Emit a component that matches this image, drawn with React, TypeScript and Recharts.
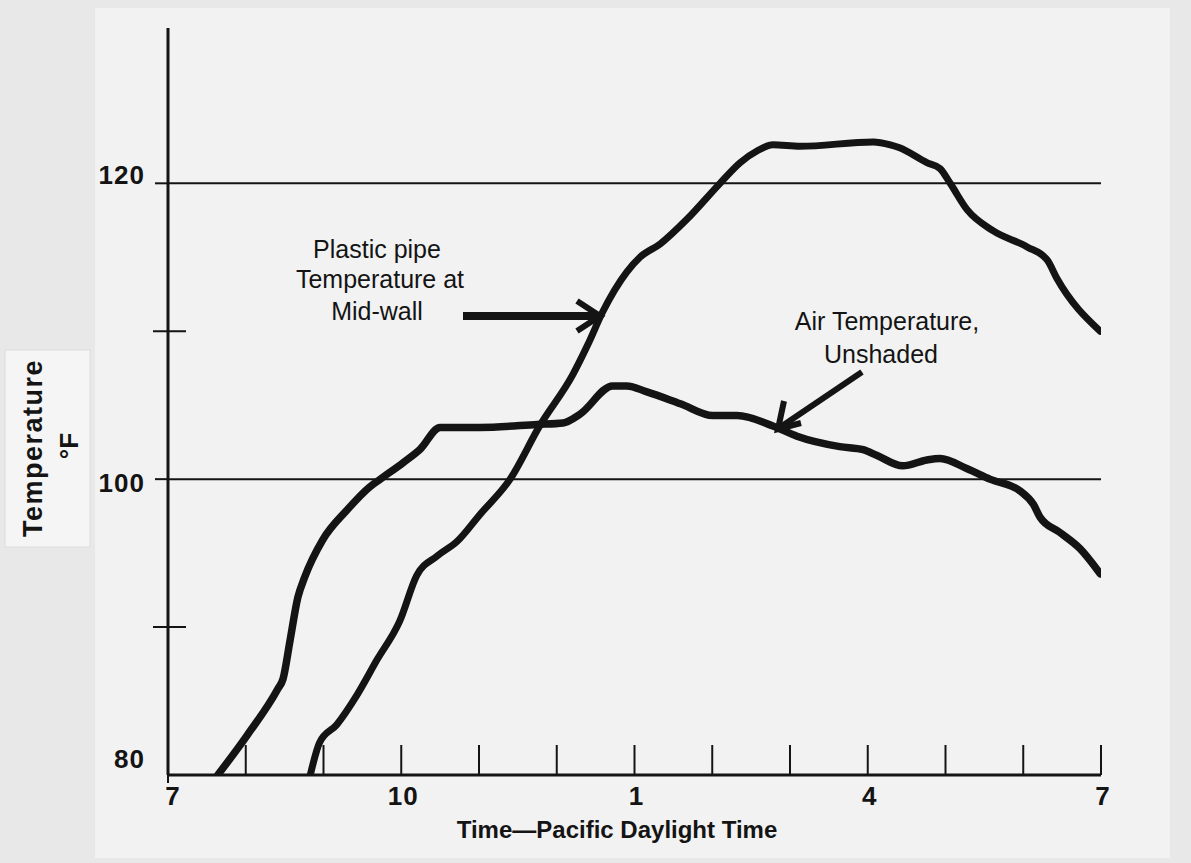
import React from "react";
import { ComposedChart, Line, XAxis, YAxis, ReferenceLine } from "recharts";

// Hours (decimal, 24h clock) and temperatures (°F)
const airHours = [7.64, 8.02, 8.41, 8.48, 8.57, 8.67, 8.76, 8.99, 9.3, 9.6, 9.73, 10.02, 10.24, 10.5, 11.01, 11.75, 12.08, 12.3, 12.72, 12.9, 13.16, 13.59, 14.01, 14.32, 14.78, 15.09, 15.64, 15.94, 16.12, 16.45, 16.76, 16.93, 17.28, 17.57, 17.96, 18.13, 18.22, 18.47, 18.73, 18.99];
const airTemps = [80.0, 82.7, 85.8, 86.5, 89.1, 92.0, 93.4, 95.9, 97.9, 99.5, 100.0, 101.1, 102.0, 103.5, 103.5, 103.7, 103.8, 104.4, 106.3, 106.3, 105.9, 105.1, 104.3, 104.3, 103.6, 102.9, 102.2, 102.0, 101.6, 100.9, 101.3, 101.4, 100.7, 100.0, 99.2, 98.3, 97.4, 96.4, 95.3, 93.6];

const pipeHours = [8.83, 8.95, 9.17, 9.43, 9.69, 9.98, 10.2, 10.46, 10.72, 11.01, 11.4, 11.78, 12.21, 12.4, 12.59, 12.9, 13.07, 13.33, 13.68, 14.1, 14.36, 14.58, 14.78, 15.13, 16.07, 16.29, 16.41, 16.76, 16.93, 17.06, 17.28, 17.61, 18.05, 18.31, 18.43, 18.99];
const pipeTemps = [80.0, 82.2, 83.4, 85.4, 87.8, 90.4, 93.5, 94.8, 95.8, 97.6, 100.0, 103.6, 107.1, 109.1, 111.3, 114.0, 115.0, 115.9, 117.6, 120.0, 121.4, 122.2, 122.6, 122.5, 122.8, 122.6, 122.4, 121.4, 121.0, 120.0, 118.2, 116.8, 115.7, 114.8, 113.6, 110.0];

const xTicks = [7, 8, 9, 10, 11, 12, 13, 14, 15, 16, 17, 18, 19];
const xLabelHours = [7, 10, 13, 16, 19];
const xLabels = ["7", "10", "1", "4", "7"];
const yTicks = [80, 90, 100, 110, 120];
const yLabelValues = [80, 100, 120];
const yLabels = ["80", "100", "120"];
const gridValues = [100, 120];

const airData = airHours.map((h, i) => ({ h, t: airTemps[i] }));
const pipeData = pipeHours.map((h, i) => ({ h, t: pipeTemps[i] }));

const INK = "#141414";
const FONT = "'Liberation Sans', Arial, Helvetica, sans-serif";

const XTick = (props: any) => {
  const { x, y, payload } = props;
  const v = payload.value;
  const idx = xLabelHours.indexOf(v);
  return (
    <g>
      {v > 7 && <line x1={x} y1={y} x2={x} y2={y - 30} stroke={INK} strokeWidth={2} />}
      {v === 7 && <line x1={x} y1={y} x2={x} y2={y + 8} stroke={INK} strokeWidth={2} />}
      {idx >= 0 && (
        <text x={x + (v === 7 ? 5 : 2)} y={y + 30} textAnchor="middle" fontFamily={FONT} fontWeight={700} fontSize={26} letterSpacing={1} fill={INK}>
          {xLabels[idx]}
        </text>
      )}
    </g>
  );
};

const YTick = (props: any) => {
  const { x, y, payload } = props;
  const v = payload.value;
  const idx = yLabelValues.indexOf(v);
  const dy = v === 80 ? -16 : v === 120 ? -9 : 3;
  return (
    <g>
      {(v === 90 || v === 110) && <line x1={x - 15} y1={y} x2={x + 18} y2={y} stroke={INK} strokeWidth={2} />}
      {(v === 100 || v === 120) && <line x1={x - 13} y1={y} x2={x} y2={y} stroke={INK} strokeWidth={2} />}
      {idx >= 0 && (
        <text x={x - 23} y={y + dy} dy="0.36em" textAnchor="end" fontFamily={FONT} fontWeight={700} fontSize={26} letterSpacing={1} fill={INK}>
          {yLabels[idx]}
        </text>
      )}
    </g>
  );
};

export default function App() {
  return (
    <div style={{ position: "absolute", left: 0, top: 0, width: 1191, height: 863, background: "#e8e8e8", overflow: "hidden" }}>
      <svg width={1191} height={863} style={{ position: "absolute", left: 0, top: 0 }}>
        <rect x={95} y={8} width={1075} height={850} fill="#f2f2f2" />
        <rect x={5} y={350} width={85} height={197} fill="#f5f5f5" stroke="#dcdcdc" strokeWidth={1} />
      </svg>
      <div style={{ position: "absolute", left: 0, top: 0 }}>
        <ComposedChart width={1191} height={863} margin={{ top: 28, right: 90, bottom: 0, left: 0 }}>
          <XAxis
            dataKey="h"
            type="number"
            domain={[7, 19]}
            ticks={xTicks}
            interval={0}
            height={88}
            tickSize={0}
            tickMargin={0}
            tickLine={false}
            axisLine={{ stroke: INK, strokeWidth: 3 }}
            tick={<XTick />}
            allowDataOverflow
          />
          <YAxis
            dataKey="t"
            type="number"
            domain={[80, 130.5]}
            ticks={yTicks}
            interval={0}
            width={168}
            tickSize={0}
            tickMargin={0}
            tickLine={false}
            axisLine={{ stroke: INK, strokeWidth: 3 }}
            tick={<YTick />}
            allowDataOverflow
          />
          {gridValues.map((g) => (
            <ReferenceLine key={g} y={g} stroke={INK} strokeWidth={2} ifOverflow="visible" />
          ))}
          <Line data={airData} dataKey="t" type="monotone" stroke={INK} strokeWidth={7.5} dot={false} isAnimationActive={false} strokeLinecap="round" strokeLinejoin="round" />
          <Line data={pipeData} dataKey="t" type="monotone" stroke={INK} strokeWidth={7} dot={false} isAnimationActive={false} strokeLinecap="round" strokeLinejoin="round" />
        </ComposedChart>
      </div>
      <svg width={1191} height={863} style={{ position: "absolute", left: 0, top: 0, pointerEvents: "none" }}>
        <g fontFamily={FONT} fill={INK} fontSize={25} textAnchor="middle">
          <text x={377} y={258}>Plastic pipe</text>
          <text x={380} y={288}>Temperature at</text>
          <text x={377} y={320}>Mid-wall</text>
          <text x={887} y={330}>Air Temperature,</text>
          <text x={881} y={363}>Unshaded</text>
        </g>
        <line x1={463} y1={316} x2={596} y2={316} stroke={INK} strokeWidth={8} />
        <polyline points="577,301 600,316 577,331" fill="none" stroke={INK} strokeWidth={6} strokeLinejoin="miter" />
        <line x1={862} y1={372} x2={782} y2={426} stroke={INK} strokeWidth={6} />
        <polyline points="784,401 778,429 801,423" fill="none" stroke={INK} strokeWidth={6} strokeLinejoin="miter" />
        <g fontFamily={FONT} fill={INK} fontWeight={700}>
          <text x={42} y={448} fontSize={27} textAnchor="middle" letterSpacing={1.5} transform="rotate(-90 42 448)">Temperature</text>
          <text x={78} y={446} fontSize={26} textAnchor="middle" transform="rotate(-90 78 446)">°F</text>
          <text x={617} y={838} fontSize={24} textAnchor="middle">Time—Pacific Daylight Time</text>
        </g>
      </svg>
    </div>
  );
}
